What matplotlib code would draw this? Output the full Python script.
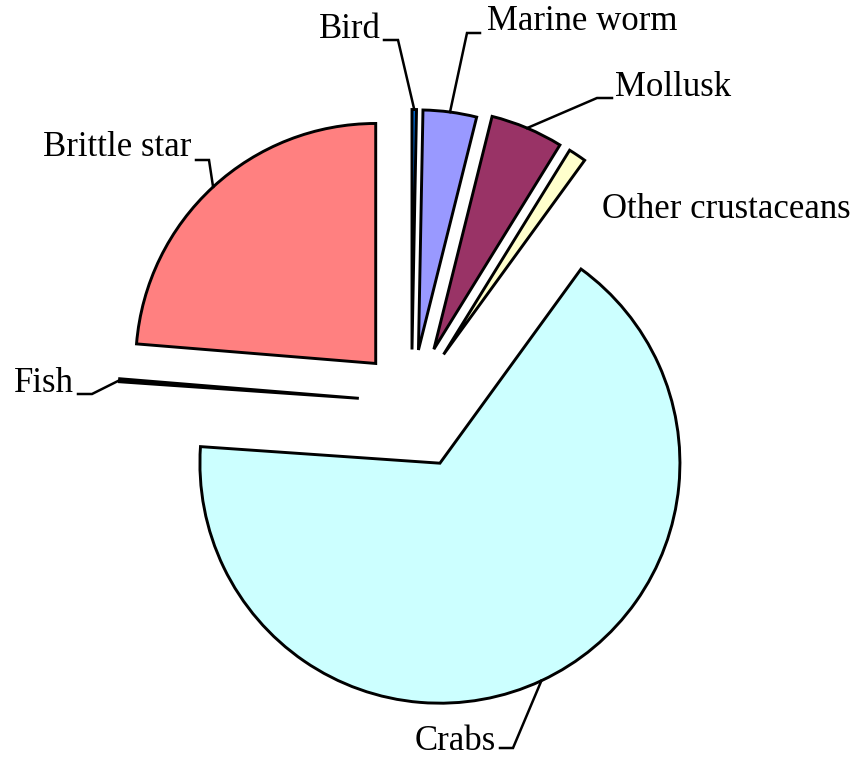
import numpy as np
import matplotlib.pyplot as plt

plt.switch_backend('agg')

W, H = 858, 759
R = 240

# prey items, clockwise from 12 o'clock (% of diet)
prey = ['Bird', 'Marine worm', 'Mollusk', 'Other crustaceans', 'Crabs', 'Fish', 'Brittle star']
share = [0.3, 3.6, 4.9, 1.2, 66.1, 0.2, 23.7]
colors = ['#0066CC', '#9999FF', '#993366', '#FFFFCC', '#CCFFFF', '#660066', '#FF8080']
explode = [0.22, 0.22, 0.24, 0.24, 0.28, 0.22, 0.22]

# label placement: (text x, text y, ha, leader start x, leader start y, elbow dx)
label_pos = {
    'Bird': (381, 29, 'right', 384, 40, 14),
    'Marine worm': (487, 22, 'left', 480, 33, -13),
    'Mollusk': (615, 88, 'left', 612, 98, -15),
    'Other crustaceans': (602, 210, 'left', None, None, 0),
    'Crabs': (496, 742, 'right', 500, 748, 13),
    'Fish': (74, 383, 'right', 78, 394, 14),
    'Brittle star': (191, 148, 'right', 196, 160, 13),
}


def main():
    fig = plt.figure(figsize=(W / 100, H / 100), dpi=100)
    ax = fig.add_axes([0, 0, 1, 1])
    # pie explode is in data units here, so scale by the radius
    wedges, _ = ax.pie(share, explode=[e * R for e in explode], colors=colors,
                       startangle=90, counterclock=False, radius=R,
                       center=(411.5, H - 402.3),
                       wedgeprops=dict(edgecolor='black', linewidth=2.1))
    ax.set_xlim(0, W)
    ax.set_ylim(0, H)
    ax.axis('off')

    for w, name in zip(wedges, prey):
        tx, ty, ha, sx, sy, dx = label_pos[name]
        ax.text(tx, H - ty, name, ha=ha, va='center', fontsize=25,
                family='Liberation Serif')
        if sx is None:
            continue
        mid = np.deg2rad((w.theta1 + w.theta2) / 2)
        cx, cy = w.center
        axp = cx + w.r * np.cos(mid)
        ayp = cy + w.r * np.sin(mid)
        ax.plot([sx, sx + dx, axp], [H - sy, H - sy, ayp], color='black',
                lw=1.8, solid_joinstyle='miter')

    fig.savefig('out.png', dpi=100, facecolor='white')


if __name__ == "__main__":
    main()
